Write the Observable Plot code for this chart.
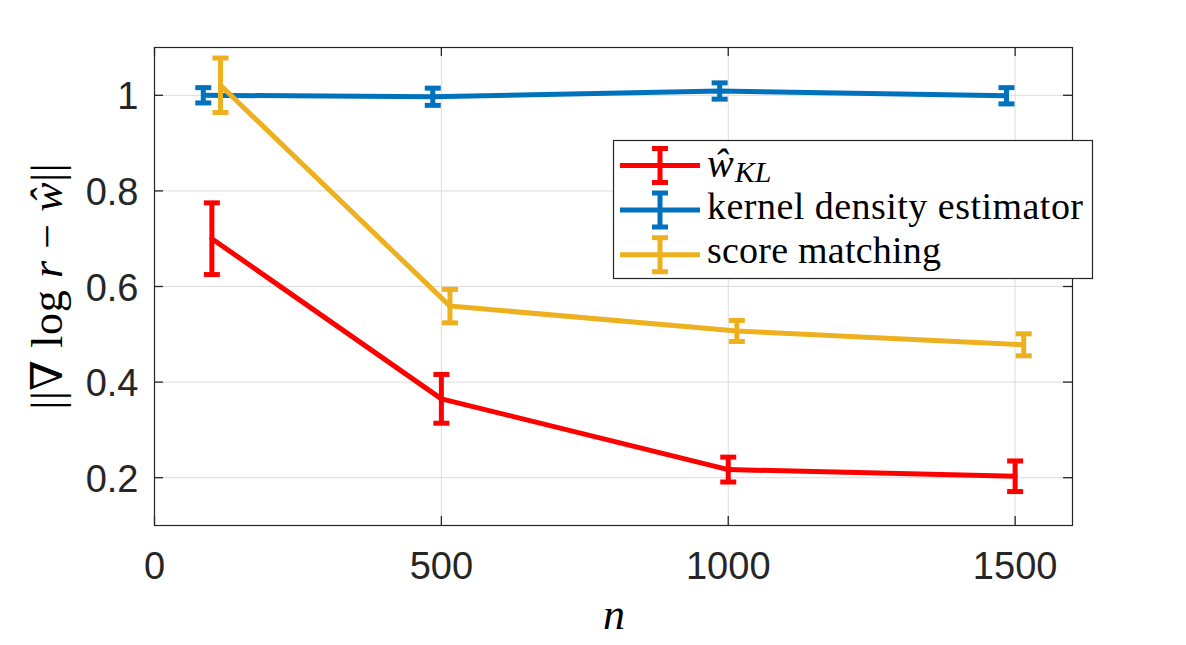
<!DOCTYPE html>
<html><head><meta charset="utf-8">
<script src="https://cdn.jsdelivr.net/npm/d3@7"></script>
<script src="https://cdn.jsdelivr.net/npm/@observablehq/plot@0.6"></script>
<style>
body{margin:0;background:#fff;}
#chart{position:relative;width:1186px;height:645px;}
</style>
</head><body><div id="chart"></div>
<script>
// ---- data ----
const seriesKeys = ["kl", "kde", "sm"];
const seriesLabels = ["ŵ_KL", "kernel density estimator", "score matching"];
const seriesColors = ["#ff0000", "#0072bd", "#edb120"];

const klN = [100, 500, 1000, 1500];
const klMean = [0.700, 0.365, 0.217, 0.203];
const klErr = [0.075, 0.051, 0.026, 0.032];

const kdeN = [85, 485, 985, 1485];
const kdeMean = [1.000, 0.997, 1.009, 0.999];
const kdeErr = [0.016, 0.018, 0.017, 0.017];

const smN = [115, 515, 1015, 1515];
const smMean = [1.021, 0.559, 0.507, 0.478];
const smErr = [0.057, 0.035, 0.022, 0.023];

const xTicks = [0, 500, 1000, 1500];
const xTickLabels = ["0", "500", "1000", "1500"];
const yTicks = [0.2, 0.4, 0.6, 0.8, 1];
const yTickLabels = ["0.2", "0.4", "0.6", "0.8", "1"];
const xDomain = [0, 1600];
const yDomain = [0.1, 1.1];

// ---- build table ----
const raw = {kl: [klN, klMean, klErr], kde: [kdeN, kdeMean, kdeErr], sm: [smN, smMean, smErr]};
const rows = seriesKeys.flatMap((k, si) => raw[k][0].map((n, i) => ({
  series: k, color: seriesColors[si], n, mean: raw[k][1][i], err: raw[k][2][i]
})));

const W = 1186, H = 645, ML = 154, MR = 114, MT = 47, MB = 120;
const FW = W - ML - MR, FH = H - MT - MB, TL = 9;
const AX = "#262626";
const LW = 5;
const capSymbol = {draw(ctx, size) { const h = Math.sqrt(size / Math.PI); ctx.moveTo(-h, 0); ctx.lineTo(h, 0); }};

const seriesMarks = seriesKeys.flatMap((k, si) => {
  const d = rows.filter(r => r.series === k);
  const c = seriesColors[si];
  return [
    Plot.line(d, {x: "n", y: "mean", stroke: c, strokeWidth: LW}),
    Plot.ruleX(d, {x: "n", y1: r => r.mean - r.err, y2: r => r.mean + r.err, stroke: c, strokeWidth: LW}),
    Plot.dot(d, {x: "n", y: r => r.mean - r.err, symbol: capSymbol, r: 8, fill: "none", stroke: c, strokeWidth: LW}),
    Plot.dot(d, {x: "n", y: r => r.mean + r.err, symbol: capSymbol, r: 8, fill: "none", stroke: c, strokeWidth: LW})
  ];
});

const xFmt = d => xTickLabels[xTicks.indexOf(d)];
const yFmt = d => yTickLabels[yTicks.indexOf(d)];
const tickStyle = {stroke: AX, strokeWidth: 1.3};

const plot = Plot.plot({
  width: W, height: H,
  marginLeft: ML, marginRight: MR, marginTop: MT, marginBottom: MB,
  style: {fontFamily: "'Liberation Sans', Arial, sans-serif", fontSize: "38px", color: AX, background: "#fff"},
  x: {domain: xDomain},
  y: {domain: yDomain},
  marks: [
    Plot.gridX(xTicks.filter(t => t > 0), {stroke: "#dcdcdc", strokeOpacity: 1, strokeWidth: 1}),
    Plot.gridY(yTicks, {stroke: "#dcdcdc", strokeOpacity: 1, strokeWidth: 1}),
    Plot.axisX(xTicks, {anchor: "bottom", tickSize: 0, tickPadding: 27, tickFormat: xFmt, label: null, fill: AX}),
    Plot.axisY(yTicks, {anchor: "left", tickSize: 0, tickPadding: 16, tickFormat: yFmt, label: null, fill: AX, dy: 2}),
    // inward tick marks on all four sides
    Plot.ruleX(xTicks, {x: d => d, insetTop: FH - TL, ...tickStyle}),
    Plot.ruleX(xTicks, {x: d => d, insetBottom: FH - TL, ...tickStyle}),
    Plot.ruleY(yTicks, {y: d => d, insetRight: FW - TL, ...tickStyle}),
    Plot.ruleY(yTicks, {y: d => d, insetLeft: FW - TL, ...tickStyle}),
    ...seriesMarks,
    Plot.frame({stroke: AX, strokeWidth: 1.2})
  ]
});
document.getElementById("chart").appendChild(plot);

// ---- axis titles (math text) ----
const svg = d3.select(plot);
const serif = "'Liberation Serif', 'Times New Roman', serif";

svg.append("text")
  .attr("x", 614).attr("y", 629).attr("text-anchor", "middle")
  .attr("font-family", serif).attr("font-size", 44).attr("font-style", "italic").attr("fill", "#000")
  .text("n");

const yl = svg.append("text")
  .attr("transform", "translate(62,286.5) rotate(-90)")
  .attr("text-anchor", "middle")
  .attr("font-family", serif).attr("font-size", 44).attr("fill", "#000")
  .attr("textLength", 246).attr("lengthAdjust", "spacing");
yl.append("tspan").text("||");
yl.append("tspan").attr("font-family", "'DejaVu Serif', serif").attr("font-weight", 200).text("∇");
yl.append("tspan").text(" log ");
yl.append("tspan").attr("font-style", "italic").text("r");
yl.append("tspan").text(" − ");
yl.append("tspan").attr("font-style", "italic").text("ŵ");
yl.append("tspan").text("||");

// ---- legend ----
const lg = svg.append("g").attr("text-anchor", "start");
lg.append("rect").attr("x", 613.5).attr("y", 140.5).attr("width", 479).attr("height", 138)
  .attr("fill", "#fff").attr("stroke", AX).attr("stroke-width", 1.2);
const rowY = [165.5, 210, 254.7];
seriesKeys.forEach((k, i) => {
  const cy = rowY[i], c = seriesColors[i];
  lg.append("line").attr("x1", 620).attr("x2", 700).attr("y1", cy).attr("y2", cy).attr("stroke", c).attr("stroke-width", LW);
  lg.append("line").attr("x1", 660).attr("x2", 660).attr("y1", cy - 17).attr("y2", cy + 17).attr("stroke", c).attr("stroke-width", LW);
  lg.append("line").attr("x1", 652).attr("x2", 668).attr("y1", cy - 17).attr("y2", cy - 17).attr("stroke", c).attr("stroke-width", LW);
  lg.append("line").attr("x1", 652).attr("x2", 668).attr("y1", cy + 17).attr("y2", cy + 17).attr("stroke", c).attr("stroke-width", LW);
});
const t1 = lg.append("text").attr("x", 707).attr("y", 177).attr("text-anchor", "start")
  .attr("font-family", serif).attr("font-size", 40).attr("fill", "#000");
t1.append("tspan").attr("font-style", "italic").text("ŵ");
t1.append("tspan").attr("font-style", "italic").attr("font-size", 30).attr("dy", 5).attr("dx", 1).text("KL");
lg.append("text").attr("x", 707).attr("y", 219.3).attr("text-anchor", "start")
  .attr("font-family", serif).attr("font-size", 38).attr("fill", "#000")
  .attr("textLength", 376).attr("lengthAdjust", "spacing").text(seriesLabels[1]);
lg.append("text").attr("x", 707).attr("y", 262.5).attr("text-anchor", "start")
  .attr("font-family", serif).attr("font-size", 38).attr("fill", "#000")
  .attr("textLength", 234).attr("lengthAdjust", "spacing").text(seriesLabels[2]);
</script>
</body></html>
